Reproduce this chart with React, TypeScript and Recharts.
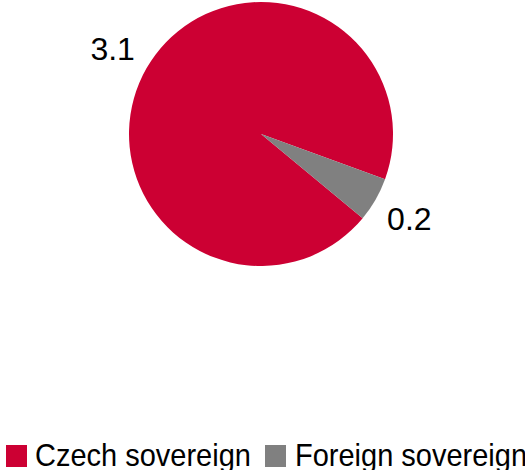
import React from 'react';
import { PieChart, Pie, Cell, Legend } from 'recharts';

// Exposure by issuer (labels rounded to 1 dp)
const categories = ['Czech sovereign', 'Foreign sovereign'];
const values = [3.12, 0.18];
const colors = ['#CC0033', '#808080'];

const data = categories.map((name, i) => ({ name, value: values[i] }));

const FONT = '"Liberation Sans", Arial, sans-serif';
const RAD = Math.PI / 180;

function renderLabel(props: any) {
  const { cx, cy, midAngle, outerRadius, value } = props;
  const r = outerRadius + 39;
  const x = cx + r * Math.cos(-midAngle * RAD);
  const y = cy + r * Math.sin(-midAngle * RAD);
  return (
    <text
      x={x}
      y={y}
      fill="#000"
      fontSize={32}
      fontFamily={FONT}
      textAnchor="middle"
      dominantBaseline="central"
    >
      {Number(value).toFixed(1)}
    </text>
  );
}

function renderLegend() {
  // rect x, text x for each entry
  const slots = [
    { rx: 6, tx: 35 },
    { rx: 265, tx: 295 },
  ];
  return (
    <svg width={525} height={30} style={{ overflow: 'visible', display: 'block' }}>
      {categories.map((name, i) => (
        <g key={name}>
          <rect x={slots[i].rx} y={5} width={21} height={22} fill={colors[i]} />
          <text
            transform={`translate(${slots[i].tx},26) scale(1,1.1)`}
            fontSize={29}
            fontFamily={FONT}
            fill="#000"
          >
            {name}
          </text>
        </g>
      ))}
    </svg>
  );
}

export default function App() {
  return (
    <div style={{ position: 'absolute', left: 0, top: 0 }}>
      <PieChart width={525} height={470} margin={{ top: 0, right: 0, bottom: 0, left: 0 }}>
        <Pie
          data={data}
          dataKey="value"
          nameKey="name"
          cx={261}
          cy={134}
          outerRadius={132}
          startAngle={-20}
          endAngle={340}
          stroke="none"
          labelLine={false}
          label={renderLabel}
          isAnimationActive={false}
        >
          {data.map((entry, index) => (
            <Cell key={`cell-${index}`} fill={colors[index]} />
          ))}
        </Pie>
        <Legend
          content={renderLegend}
          wrapperStyle={{ left: 0, top: 440, width: 525, height: 30 }}
        />
      </PieChart>
    </div>
  );
}
